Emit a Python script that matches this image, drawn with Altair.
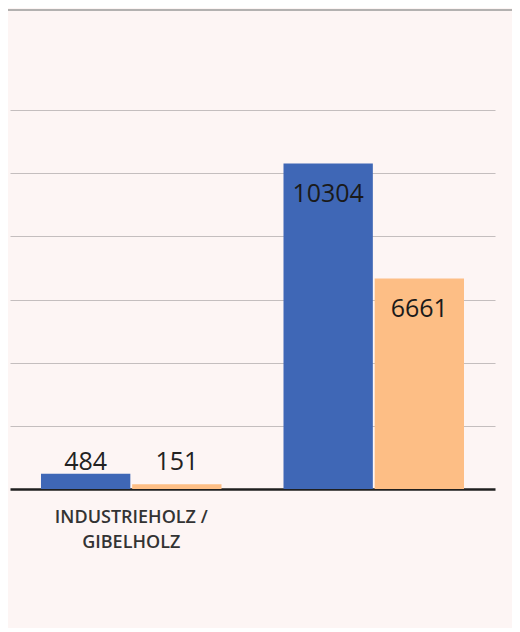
import altair as alt
import pandas as pd

categories = ["INDUSTRIEHOLZ / GIBELHOLZ", ""]
series = ["Serie 1", "Serie 2"]
values_s1 = [484, 10304]
values_s2 = [151, 6661]
colors = ["#3F67B6", "#FDBE85"]
y_ticks = [2000, 4000, 6000, 8000, 10000, 12000]

rows = []
for i, c in enumerate(categories):
    rows.append({"cat": c, "series": series[0], "value": values_s1[i]})
    rows.append({"cat": c, "series": series[1], "value": values_s2[i]})
df = pd.DataFrame(rows)

W, H = 485, 379
FONT = "Open Sans"

x_enc = alt.X("cat:N", sort=categories,
              scale=alt.Scale(paddingInner=0, paddingOuter=0),
              axis=alt.Axis(title=None, labelAngle=0, ticks=False,
                            domainColor="#1f1f1f", domainWidth=2.5,
                            labelFont=FONT, labelFontSize=18, labelFontWeight=600,
                            labelColor="#333333", labelPadding=19, labelLineHeight=25,
                            labelExpr="datum.label == 'INDUSTRIEHOLZ / GIBELHOLZ' ? ['INDUSTRIEHOLZ /', 'GIBELHOLZ'] : ''"))
xoff = alt.XOffset("series:N", sort=series,
                   scale=alt.Scale(paddingInner=0.02, paddingOuter=0.34))
y_scale = alt.Scale(domain=[0, 12000], nice=False)

base = alt.Chart(df)

bars = base.mark_bar().encode(
    x=x_enc,
    xOffset=xoff,
    y=alt.Y("value:Q", scale=y_scale,
            axis=alt.Axis(title=None, values=y_ticks, labels=False, ticks=False,
                          domain=False, grid=True, gridColor="#C4BEBE", gridWidth=1.2)),
    color=alt.Color("series:N", sort=series,
                    scale=alt.Scale(domain=series, range=colors), legend=None),
)

inside = base.transform_filter("datum.value > 2000").mark_text(
    font=FONT, fontSize=25, color="#1a1a1a", baseline="alphabetic", dy=38
).encode(
    x=alt.X("cat:N", sort=categories),
    xOffset=xoff,
    y=alt.Y("value:Q", scale=y_scale),
    text="value:Q",
)

outside = base.transform_joinaggregate(
    top="max(value)", groupby=["cat"]
).transform_filter("datum.value <= 2000").mark_text(
    font=FONT, fontSize=25, color="#222222", baseline="alphabetic", dy=-4
).encode(
    x=alt.X("cat:N", sort=categories),
    xOffset=xoff,
    y=alt.Y("top:Q", scale=y_scale),
    text="value:Q",
)

top_line = alt.Chart(pd.DataFrame({"a": [0]})).mark_rule(
    color="#9a9a9a", strokeWidth=1.5
).encode(x=alt.value(-4), x2=alt.value(W + 20), y=alt.value(-100))

chart = alt.layer(bars, inside, outside, top_line).properties(
    width=W, height=H,
    autosize=alt.AutoSizeParams(type="none"),
    padding={"left": 2, "top": 102, "right": 17, "bottom": 139},
    background="#FDF5F4",
).configure_view(stroke=None)

chart.save("out.html", embed_options={"renderer": "svg", "actions": False})
